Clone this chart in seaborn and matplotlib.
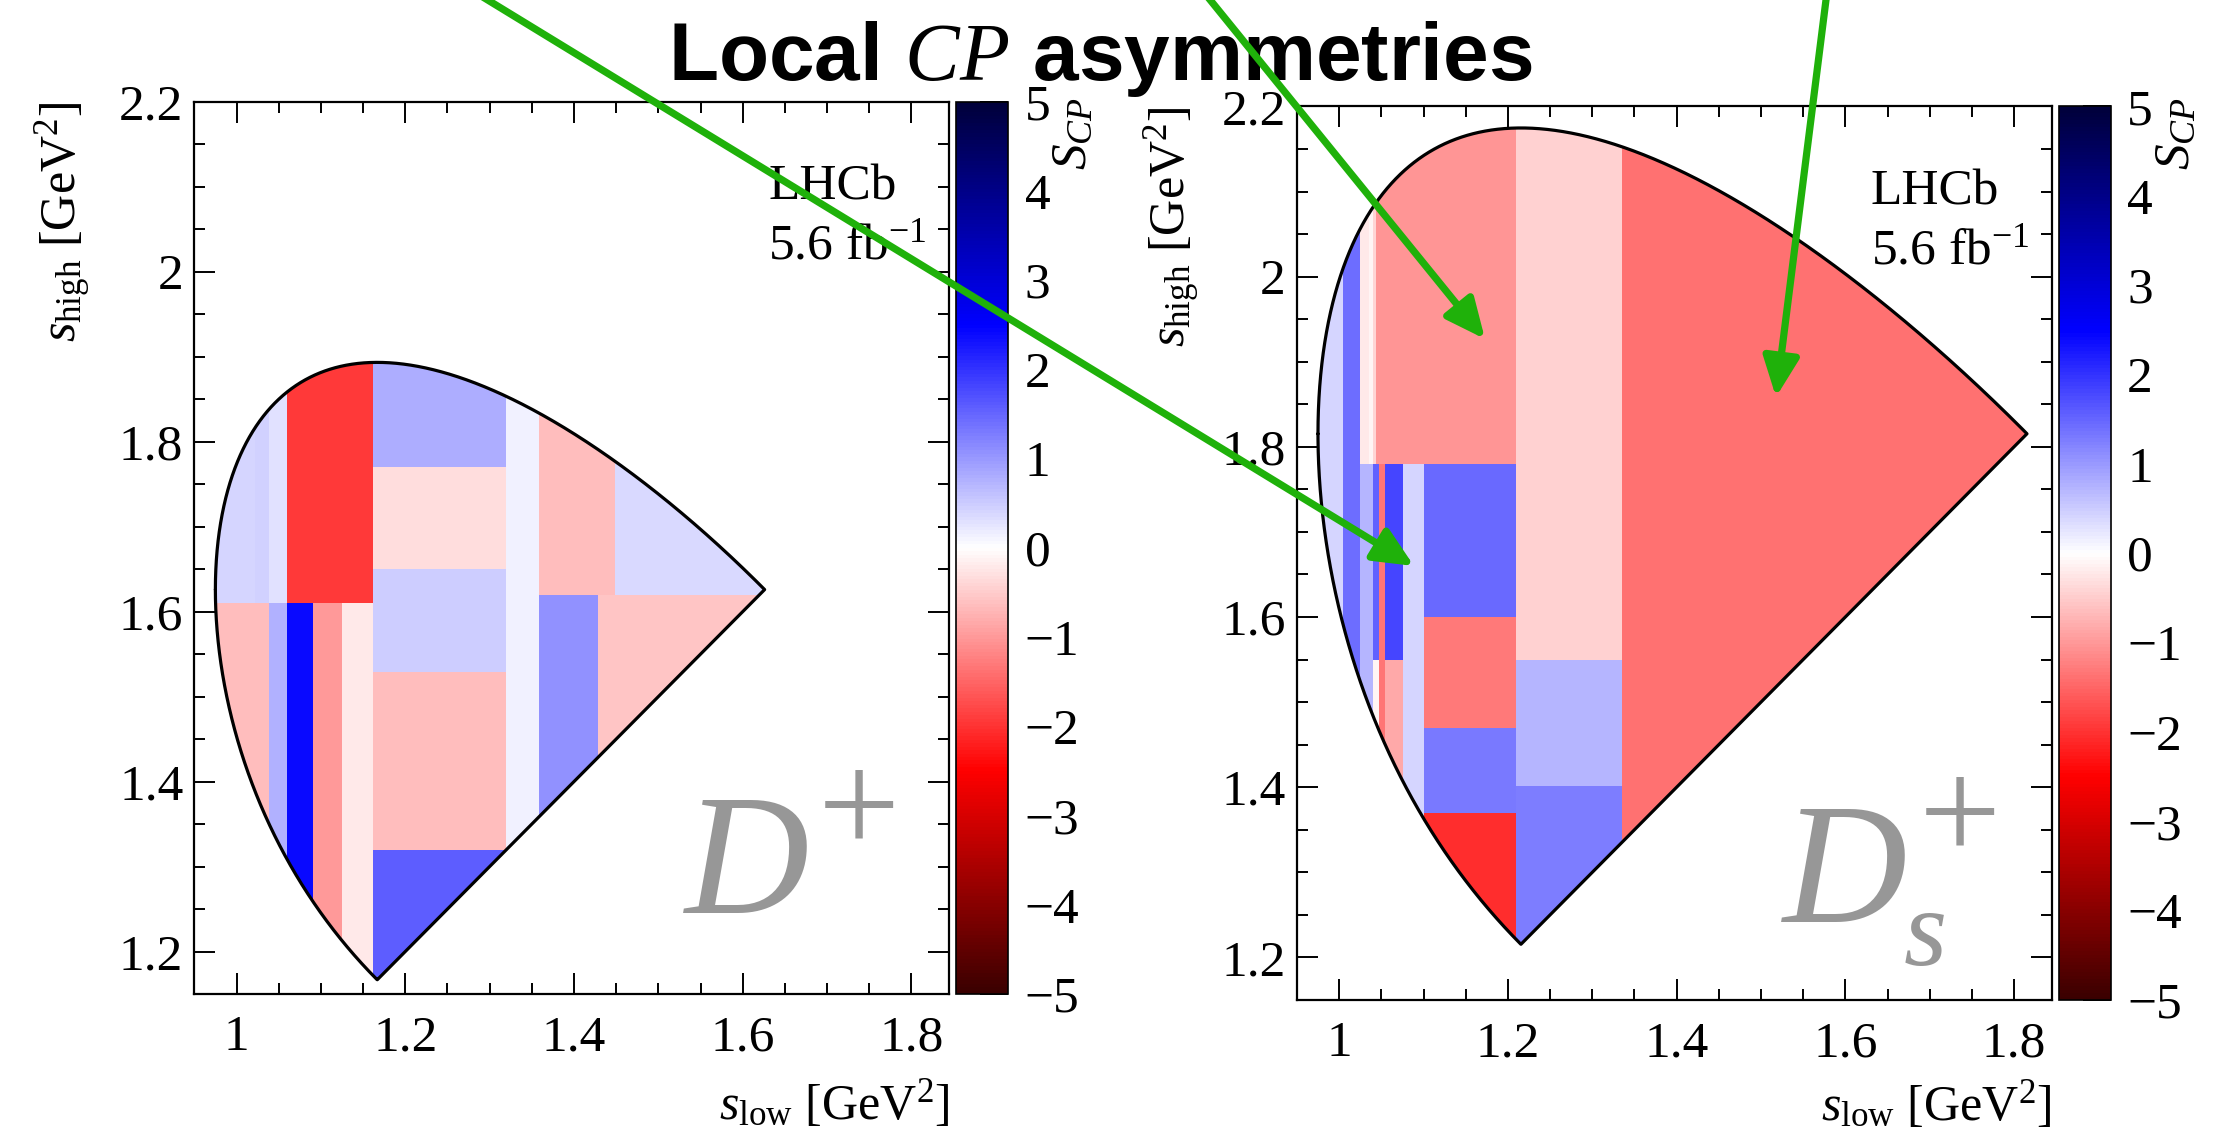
import numpy as np
import matplotlib
matplotlib.use("Agg")
import matplotlib.pyplot as plt
import seaborn as sns
from matplotlib.patches import Polygon, FancyArrowPatch
from matplotlib.ticker import MultipleLocator, FormatStrFormatter

sns.set_style("ticks")
plt.rcParams.update({
    "font.family": ["Liberation Serif", "DejaVu Serif"],
    "mathtext.fontset": "custom",
    "mathtext.rm": "Liberation Serif",
    "mathtext.it": "Liberation Serif:italic",
    "mathtext.bf": "Liberation Serif:bold",
    "axes.linewidth": 1.6,
    "axes.edgecolor": "black",
    "xtick.color": "black",
    "ytick.color": "black",
    "axes.labelcolor": "black",
    "text.color": "black",
})

# Particle masses [GeV]
M_K = 0.493677
M_DPLUS = 1.86966
M_DSPLUS = 1.96835

# D+ -> K- K+ K+ : adaptive Dalitz bins and their S_CP significance
dp_slow_lo = [0.95, 1.022, 1.039, 1.060, 0.95, 1.039, 1.060, 1.090, 1.125,
              1.162, 1.162, 1.162, 1.162, 1.162, 1.319, 1.358, 1.448, 1.358, 1.429]
dp_slow_hi = [1.022, 1.039, 1.060, 1.162, 1.039, 1.060, 1.090, 1.125, 1.162,
              1.319, 1.319, 1.319, 1.319, 1.319, 1.358, 1.448, 1.85, 1.429, 1.85]
dp_shigh_lo = [1.61, 1.61, 1.61, 1.61, 1.15, 1.15, 1.15, 1.15, 1.15,
               1.77, 1.65, 1.529, 1.319, 1.15, 1.15, 1.62, 1.62, 1.15, 1.15]
dp_shigh_hi = [2.2, 2.2, 2.2, 2.2, 1.61, 1.61, 1.61, 1.61, 1.61,
               2.2, 1.77, 1.65, 1.529, 1.319, 2.2, 2.2, 2.2, 1.62, 1.62]
dp_scp = [0.40, 0.45, 0.30, -1.93, -0.65, 0.75, 2.40, -1.00, -0.20,
          0.80, -0.35, 0.47, -0.65, 1.60, 0.15, -0.65, 0.38, 1.07, -0.58]

# Ds+ -> K- K+ K+ : adaptive Dalitz bins and their S_CP significance
ds_slow_lo = [0.95, 1.0045, 1.0244, 1.0355, 1.0395, 1.044, 1.0244, 1.0395, 1.0395,
              1.0473, 1.054, 1.054, 1.076, 1.101, 1.101, 1.101, 1.101,
              1.21, 1.21, 1.21, 1.335]
ds_slow_hi = [1.0045, 1.0244, 1.0355, 1.0395, 1.044, 1.21, 1.0395, 1.0473, 1.0473,
              1.054, 1.076, 1.076, 1.101, 1.21, 1.21, 1.21, 1.21,
              1.335, 1.335, 1.335, 1.85]
ds_shigh_lo = [1.15, 1.15, 1.78, 1.78, 1.78, 1.78, 1.15, 1.55, 1.15,
               1.15, 1.55, 1.15, 1.15, 1.60, 1.47, 1.37, 1.15,
               1.55, 1.401, 1.15, 1.15]
ds_shigh_hi = [2.2, 2.2, 2.2, 2.2, 2.2, 2.2, 1.78, 1.78, 1.55,
               1.78, 1.78, 1.55, 1.78, 1.78, 1.60, 1.47, 1.37,
               2.2, 1.55, 1.401, 2.2]
ds_scp = [0.42, 1.41, -0.23, -0.10, -0.40, -1.05, 0.74, 1.55, -0.08,
          -1.35, 1.82, -0.83, 0.40, 1.47, -1.30, 1.32, -2.05,
          -0.46, 0.74, 1.25, -1.37]

scp_ticks = list(range(-5, 6))

cmap = sns.blend_palette(["#3a0000", "#ff0000", "#ffffff", "#0000ff", "#00003a"],
                         n_colors=256, as_cmap=True)


def region_outline(M, m=M_K, n=4000):
    """Half Dalitz plot (s_high >= s_low) for M -> 3 kaons."""
    s_min = (2 * m) ** 2
    s_max = (M - m) ** 2
    t = np.linspace(0.0, 1.0, n)
    x = s_min + (s_max - s_min) * t ** 2
    rs = np.sqrt(x)
    e2 = rs / 2.0
    e3 = (M ** 2 - x - m ** 2) / (2.0 * rs)
    p2 = np.sqrt(np.clip(e2 ** 2 - m ** 2, 0.0, None))
    p3 = np.sqrt(np.clip(e3 ** 2 - m ** 2, 0.0, None))
    upper = (e2 + e3) ** 2 - (p2 - p3) ** 2
    lower = (e2 + e3) ** 2 - (p2 + p3) ** 2
    d = upper - x
    k = np.nonzero(d >= 0)[0][-1]
    xt = x[k] + d[k] * (x[k + 1] - x[k]) / (d[k] - d[k + 1])
    xs = np.append(x[:k + 1], xt)
    up = np.append(upper[:k + 1], xt)
    lo = np.append(np.maximum(lower[:k + 1], x[:k + 1]), xt)
    return np.vstack([np.column_stack([xs, up]),
                      np.column_stack([xs[::-1], lo[::-1]])])


def bin_grid(xlo, xhi, ylo, yhi, val):
    xe = np.unique(np.concatenate([xlo, xhi]))
    ye = np.unique(np.concatenate([ylo, yhi]))
    xc = 0.5 * (xe[:-1] + xe[1:])
    yc = 0.5 * (ye[:-1] + ye[1:])
    z = np.full((len(yc), len(xc)), np.nan)
    for a, b, c, d, v in zip(xlo, xhi, ylo, yhi, val):
        z[np.ix_((yc > c) & (yc < d), (xc > a) & (xc < b))] = v
    return xe, ye, z


W, H = 2234.0, 1128.0


def box(x0, y0, x1, y1):
    return [x0 / W, 1 - y1 / H, (x1 - x0) / W, (y1 - y0) / H]


fig = plt.figure(figsize=(W / 100, H / 100), dpi=100)
fig.patch.set_facecolor("white")

panels = [
    dict(bins=(dp_slow_lo, dp_slow_hi, dp_shigh_lo, dp_shigh_hi, dp_scp),
         mass=M_DPLUS, ax=(194.4, 101.8, 949.4, 994.0), cax=(956.0, 101.8, 1008.0, 994.0),
         ylab_x=-0.133, xlab_y=-0.095, cblabel_x=1074, name="D"),
    dict(bins=(ds_slow_lo, ds_slow_hi, ds_shigh_lo, ds_shigh_hi, ds_scp),
         mass=M_DSPLUS, ax=(1297.0, 106.4, 2052.0, 1000.0), cax=(2058.5, 106.4, 2110.5, 1000.0),
         ylab_x=-0.125, xlab_y=-0.089, cblabel_x=2177, name="Ds"),
]

for p in panels:
    ax = fig.add_axes(box(*p["ax"]))
    cax = fig.add_axes(box(*p["cax"]))

    xe, ye, z = bin_grid(*[np.asarray(a, float) for a in p["bins"]])
    mesh = ax.pcolormesh(xe, ye, np.ma.masked_invalid(z), cmap=cmap, vmin=-5, vmax=5,
                         shading="flat", antialiased=False, linewidth=0, zorder=1)
    outline = region_outline(p["mass"])
    clip = Polygon(outline, closed=True, transform=ax.transData)
    mesh.set_clip_path(clip)
    ax.plot(np.append(outline[:, 0], outline[0, 0]),
            np.append(outline[:, 1], outline[0, 1]),
            color="black", lw=2.3, zorder=3)

    ax.set_xlim(0.95, 1.845)
    ax.set_ylim(1.15, 2.2)
    ax.xaxis.set_major_locator(MultipleLocator(0.2))
    ax.xaxis.set_minor_locator(MultipleLocator(0.05))
    ax.yaxis.set_major_locator(MultipleLocator(0.2))
    ax.yaxis.set_minor_locator(MultipleLocator(0.05))
    ax.xaxis.set_major_formatter(FormatStrFormatter("%g"))
    ax.yaxis.set_major_formatter(FormatStrFormatter("%g"))
    ax.tick_params(which="both", direction="in", top=True, right=True,
                   width=1.4, labelsize=37, colors="black")
    ax.tick_params(which="major", length=15)
    ax.tick_params(which="minor", length=8)
    ax.tick_params(axis="x", pad=15)
    ax.tick_params(axis="y", pad=8)
    for s in ax.spines.values():
        s.set_linewidth(1.6)
        s.set_color("black")

    ax.set_xlabel(r"$s_{\mathrm{low}}$ [GeV$^{2}$]", fontsize=36, loc="right")
    ax.xaxis.set_label_coords(1.0, p["xlab_y"])
    ax.set_ylabel(r"$s_{\mathrm{high}}$ [GeV$^{2}$]", fontsize=36, loc="top")
    ax.yaxis.set_label_coords(p["ylab_x"], 1.0)

    ax.text(0.760, 0.890, "LHCb", transform=ax.transAxes, fontsize=37,
            ha="left", va="baseline", zorder=5)
    ax.text(0.760, 0.824, r"5.6 fb$^{-1}$", transform=ax.transAxes, fontsize=37,
            ha="left", va="baseline", zorder=5)

    grey = "#979797"
    if p["name"] == "D":
        ax.text(0.650, 0.091, "D", transform=ax.transAxes, fontsize=124, style="italic",
                color=grey, ha="left", va="baseline")
        ax.text(0.8800, 0.159, "+", transform=ax.transAxes, fontsize=105,
                color=grey, ha="center", va="baseline")
    else:
        ax.text(0.6437, 0.087, "D", transform=ax.transAxes, fontsize=124, style="italic",
                color=grey, ha="left", va="baseline")
        ax.text(0.804, 0.039, "s", transform=ax.transAxes, fontsize=80, style="italic",
                color=grey, ha="left", va="baseline")
        ax.text(0.8780, 0.157, "+", transform=ax.transAxes, fontsize=105,
                color=grey, ha="center", va="baseline")

    cb = fig.colorbar(mesh, cax=cax, ticks=scp_ticks)
    cb.outline.set_linewidth(1.2)
    cb.outline.set_edgecolor("black")
    cax.minorticks_off()
    cax.tick_params(direction="in", length=20, width=1.4, pad=12, labelsize=37,
                    colors="black", right=True, left=False)
    fig.text(p["cblabel_x"] / W, 1 - 97 / H, r"$S_{CP}$", fontsize=37, rotation=90,
             rotation_mode="anchor", ha="right", va="center")

fig.text(1100 / W, 1 - 80 / H, r"Local $CP$ asymmetries", fontsize=59,
         fontweight="bold", family=["Liberation Sans", "DejaVu Sans"],
         ha="center", va="baseline", zorder=10)

# Pointers to the bins discussed in the text
green = "#1fb10a"
arrow_paths = [((455, -20), (1414, 566)),
               ((1194, -20), (1485, 339)),
               ((1828.5, -20), (1776, 397))]
for (xa, ya), (xb, yb) in arrow_paths:
    arr = FancyArrowPatch((xa / W, 1 - ya / H), (xb / W, 1 - yb / H),
                          transform=fig.transFigure,
                          arrowstyle="-|>,head_length=24,head_width=11",
                          mutation_scale=1, color=green, lw=5.2,
                          shrinkA=0, shrinkB=0, zorder=20, clip_on=False)
    fig.add_artist(arr)

fig.savefig("out.png", dpi=100, facecolor="white")
